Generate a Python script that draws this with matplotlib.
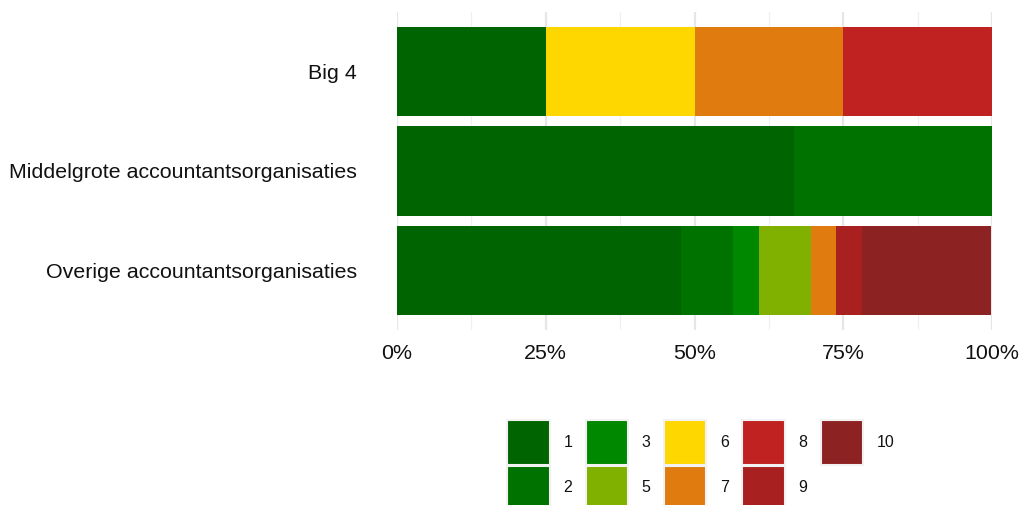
import matplotlib.pyplot as plt
from matplotlib.patches import Patch
from matplotlib.ticker import FixedLocator, PercentFormatter
import numpy as np

plt.rcParams['font.family'] = ['Liberation Sans', 'DejaVu Sans']

# categories, top to bottom
groups = ['Big 4', 'Middelgrote accountantsorganisaties', 'Overige accountantsorganisaties']
scores = ['1', '2', '3', '5', '6', '7', '8', '9', '10']
colors = ['#006400', '#007200', '#008800', '#80b000', '#ffd700',
          '#e07b10', '#c02222', '#a82020', '#8d2222']

# share (%) per score for each group
big4 = [25.0, 0, 0, 0, 25.0, 25.0, 25.0, 0, 0]
middelgroot = [66.7, 33.3, 0, 0, 0, 0, 0, 0, 0]
overig = [47.8, 8.7, 4.3, 8.7, 0, 4.3, 0, 4.3, 21.7]

shares = np.array([big4, middelgroot, overig])
ypos = np.arange(len(groups))[::-1]

fig = plt.figure(figsize=(10.2, 5.05), dpi=100)
ax = fig.add_axes([397/1020, 1-330/505, 595/1020, 318/505])

left = np.zeros(len(groups))
for i, s in enumerate(scores):
    ax.barh(ypos, shares[:, i], left=left, height=0.9, color=colors[i],
            edgecolor='none', zorder=2)
    left += shares[:, i]

ax.set_xlim(0, 100)
ax.set_ylim(-0.6, 2.6)
ax.xaxis.set_major_locator(FixedLocator([0, 25, 50, 75, 100]))
ax.xaxis.set_minor_locator(FixedLocator([12.5, 37.5, 62.5, 87.5]))
ax.xaxis.set_major_formatter(PercentFormatter(decimals=0))
ax.set_yticks(ypos)
ax.set_yticklabels(groups)
ax.grid(True, axis='x', which='major', color='#e6e6e6', linewidth=1.6, zorder=0)
ax.grid(True, axis='x', which='minor', color='#f0f0f0', linewidth=0.9, zorder=0)
ax.tick_params(axis='both', which='both', length=0, labelsize=15.4, colors='#111111')
ax.tick_params(axis='x', pad=10)
ax.tick_params(axis='y', pad=29)
for sp in ax.spines.values():
    sp.set_visible(False)

handles = [Patch(facecolor=c, edgecolor='#f2f2f2', linewidth=1.5) for c in colors]
fig.legend(handles, scores, loc='upper center', bbox_to_anchor=(701/1020, 1-412/505),
           ncol=5, frameon=False, fontsize=11.5, handlelength=2.65, handleheight=3.95,
           handletextpad=0.85, columnspacing=0.85, labelspacing=0.05, borderpad=0,
           labelcolor='#111111')

fig.savefig('out.png', dpi=100)
